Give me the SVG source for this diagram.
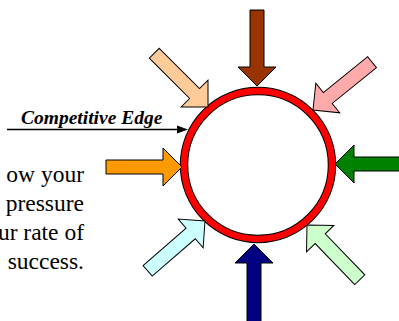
<svg xmlns="http://www.w3.org/2000/svg" width="399" height="321" viewBox="0 0 399 321">
<defs>
<path id="a" d="M-76,-7 L-19,-7 L-19,-19 L0,0 L-19,19 L-19,7 L-76,7 Z" stroke="#000" stroke-width="1"/>
<path id="along" d="M-100,-7 L-19,-7 L-19,-19 L0,0 L-19,19 L-19,7 L-100,7 Z" stroke="#000" stroke-width="1"/>
</defs>
<rect width="399" height="321" fill="#fff"/>
<g id="body-text" font-family="Liberation Serif, serif" font-size="23.5" text-anchor="end" fill="#000">
<text x="84" y="182">ow your</text>
<text x="84" y="211">pressure</text>
<text x="84" y="240">ur rate of</text>
<text x="84" y="269">success.</text>
</g>
<g id="ring">
<circle cx="258" cy="165" r="74" fill="none" stroke="#000" stroke-width="8.5"/>
<circle cx="258" cy="165" r="74" fill="none" stroke="#FF0000" stroke-width="6.5"/>
</g>
<g id="connectors">
<g id="arrow-top"><use href="#a" fill="#993300" transform="translate(257,86) rotate(90)"/></g>
<g id="arrow-bottom"><use href="#along" fill="#000080" transform="translate(254,244) rotate(-90)"/></g>
<g id="arrow-left"><use href="#a" fill="#FF9900" transform="translate(182,167)"/></g>
<g id="arrow-right"><use href="#along" fill="#008000" transform="translate(335,164) rotate(180)"/></g>
<g id="arrow-upper-left"><use href="#a" fill="#FFCC99" transform="translate(208,107) rotate(45)"/></g>
<g id="arrow-upper-right"><use href="#a" fill="#FFAAAA" transform="translate(313,110) rotate(141)"/></g>
<g id="arrow-lower-left"><use href="#a" fill="#CCFFFF" transform="translate(205,221) rotate(-41)"/></g>
<g id="arrow-lower-right"><use href="#a" fill="#CCFFCC" transform="translate(307,225) rotate(-134)"/></g>
<g id="edge-arrow">
<line x1="7" y1="129.5" x2="180" y2="129.5" stroke="#000" stroke-width="1.5"/>
<polygon points="177,125.5 188,129.5 177,133.5" fill="#000"/>
</g>
</g>
<g id="edge-label"><text x="21" y="124" font-family="Liberation Serif, serif" font-size="19.5" font-style="italic" font-weight="bold" fill="#000">Competitive Edge</text></g>
</svg>
